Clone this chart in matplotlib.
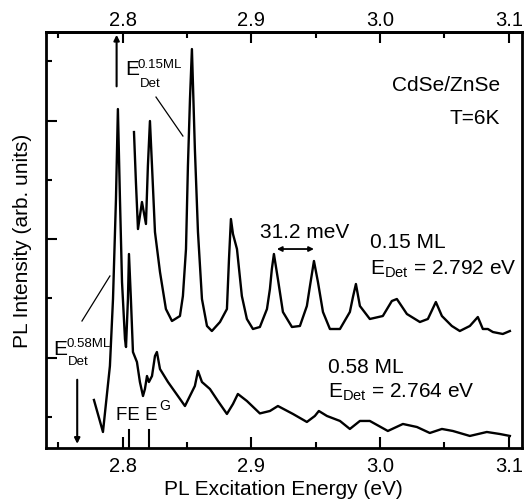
import matplotlib
matplotlib.use("Agg")
import matplotlib.pyplot as plt

plt.rcParams['font.family'] = ['Liberation Sans', 'DejaVu Sans']
plt.rcParams['mathtext.fontset'] = 'custom'
plt.rcParams['mathtext.rm'] = 'Liberation Sans'
plt.rcParams['mathtext.it'] = 'Liberation Sans'

# 0.58 ML spectrum (lower trace), excitation energy in eV vs intensity (arb. units)
e_058 = [2.7777, 2.7847, 2.7901, 2.7925, 2.7948, 2.7963, 2.7979, 2.7995, 2.8018,
         2.8026, 2.8041, 2.8049, 2.8064, 2.8080, 2.8111, 2.8134, 2.8158, 2.8173,
         2.8189, 2.8204, 2.8228, 2.8251, 2.8266, 2.8290, 2.8352, 2.8429, 2.8484,
         2.8561, 2.8585, 2.8616, 2.8678, 2.8740, 2.8810, 2.8857, 2.8895, 2.8965,
         2.9066, 2.9144, 2.9206, 2.9323, 2.9431, 2.9493, 2.9524, 2.9587, 2.9688,
         2.9765, 2.9843, 2.9920, 3.0060, 3.0177, 3.0286, 3.0386, 3.0480, 3.0565,
         3.0697, 3.0829, 3.0930, 3.1008]
i_058 = [0.287, -0.253, 0.860, 1.990, 3.676, 5.194, 3.676, 2.277, 1.315,
         1.180, 1.990, 2.749, 1.990, 1.096, 0.927, 0.590, 0.354, 0.472,
         0.691, 0.590, 0.691, 1.029, 1.096, 0.809, 0.590, 0.354, 0.185,
         0.523, 0.776, 0.590, 0.472, 0.270, 0.051, 0.219, 0.388, 0.270,
         0.060, 0.101, 0.185, 0.051, -0.084, 0.017, 0.101, 0.017, -0.067,
         -0.202, -0.067, -0.067, -0.236, -0.118, -0.169, -0.270, -0.202, -0.236,
         -0.320, -0.253, -0.287, -0.320]

# 0.15 ML spectrum (upper trace)
e_015 = [2.8088, 2.8103, 2.8119, 2.8150, 2.8181, 2.8196, 2.8212, 2.8228, 2.8251,
         2.8290, 2.8336, 2.8383, 2.8445, 2.8468, 2.8492, 2.8507, 2.8523, 2.8538,
         2.8561, 2.8585, 2.8616, 2.8655, 2.8693, 2.8756, 2.8810, 2.8826, 2.8841,
         2.8857, 2.8888, 2.8926, 2.8965, 2.9012, 2.9066, 2.9121, 2.9144, 2.9159,
         2.9175, 2.9206, 2.9245, 2.9315, 2.9377, 2.9431, 2.9455, 2.9486, 2.9517,
         2.9556, 2.9610, 2.9688, 2.9765, 2.9789, 2.9812, 2.9843, 2.9920, 3.0021,
         3.0091, 3.0130, 3.0208, 3.0309, 3.0371, 3.0433, 3.0480, 3.0557, 3.0619,
         3.0697, 3.0759, 3.0798, 3.0837, 3.0876, 3.0953, 3.1008]
i_015 = [4.806, 3.963, 3.170, 3.626, 3.255, 4.233, 4.992, 4.233, 3.120,
         2.445, 1.821, 1.619, 1.703, 2.040, 2.833, 4.233, 5.363, 6.206,
         4.519, 3.120, 1.990, 1.535, 1.450, 1.602, 1.821, 2.664, 3.339,
         3.086, 2.833, 2.040, 1.653, 1.484, 1.518, 1.821, 2.159, 2.496,
         2.749, 2.327, 1.771, 1.518, 1.535, 1.872, 2.209, 2.631, 2.277,
         1.771, 1.484, 1.484, 1.771, 2.024, 2.243, 1.872, 1.653, 1.703,
         1.956, 1.990, 1.737, 1.602, 1.653, 1.939, 1.703, 1.535, 1.450,
         1.535, 1.686, 1.484, 1.484, 1.433, 1.400, 1.450]

x_ticks = [2.8, 2.9, 3.0, 3.1]
x_labels = ['2.8', '2.9', '3.0', '3.1']
x_minor = [2.75, 2.85, 2.95, 3.05]
y_major = [1, 3, 5]
y_minor = [0, 2, 4, 6]

fs = 15
fs_small = 9.5

fig = plt.figure(figsize=(5.25, 5.02), dpi=100)
ax = fig.add_axes([0.087, 0.1056, 0.907, 0.8286])

ax.plot(e_058, i_058, color='black', lw=1.7)
ax.plot(e_015, i_015, color='black', lw=1.7)

ax.set_xlim(2.7402, 3.1101)
ax.set_ylim(-0.523, 6.493)
ax.set_xticks(x_ticks)
ax.set_xticklabels(x_labels)
ax.set_xticks(x_minor, minor=True)
ax.set_yticks(y_major)
ax.set_yticks(y_minor, minor=True)

ax.tick_params(axis='x', which='both', direction='in', top=False,
               labelsize=14.5, pad=6)
ax.tick_params(axis='y', which='both', direction='in', left=True, right=False,
               labelleft=False)
ax.tick_params(which='major', length=8, width=1.5)
ax.tick_params(which='minor', length=4, width=1.5)
for s in ax.spines.values():
    s.set_linewidth(2)

# top axis with same scale
top = ax.secondary_xaxis('top')
top.set_xticks(x_ticks)
top.set_xticklabels(x_labels)
top.set_xticks(x_minor, minor=True)
top.tick_params(which='both', direction='in', labelsize=14.5, pad=2)
top.tick_params(which='major', length=8, width=1.5)
top.tick_params(which='minor', length=4, width=1.5)
top.spines['top'].set_linewidth(2)

ax.set_xlabel('PL Excitation Energy (eV)', fontsize=fs, labelpad=3)
ax.set_ylabel('PL Intensity (arb. units)', fontsize=fs, labelpad=10)

# detection energy arrows
ax.annotate('', xy=(2.7953, 6.493), xytext=(2.7953, 5.53),
            arrowprops=dict(arrowstyle='-|>', color='black', lw=1.5, mutation_scale=8))
ax.annotate('', xy=(2.7647, -0.50), xytext=(2.7647, 0.675),
            arrowprops=dict(arrowstyle='-|>', color='black', lw=1.5, mutation_scale=8))

# FE and E^G markers
ax.plot([2.8053, 2.8053], [-0.22, -0.523], color='black', lw=1.5)
ax.plot([2.8208, 2.8208], [-0.22, -0.523], color='black', lw=1.5)
ax.text(2.7948, -0.034, 'FE E', fontsize=13.5, va='baseline')
ax.text(2.8285, 0.13, 'G', fontsize=10, va='baseline')

# E_Det labels with pointers
ax.text(2.8018, 5.784, 'E', fontsize=fs, va='baseline')
ax.text(2.8119, 5.902, '0.15ML', fontsize=fs_small, va='baseline')
ax.text(2.8134, 5.582, 'Det', fontsize=fs_small, va='baseline')
ax.plot([2.8259, 2.8468], [5.396, 4.739], color='black', lw=0.9)

ax.text(2.7459, 1.062, 'E', fontsize=fs, va='baseline')
ax.text(2.7560, 1.197, '0.58ML', fontsize=fs_small, va='baseline')
ax.text(2.7575, 0.894, 'Det', fontsize=fs_small, va='baseline')
ax.plot([2.7684, 2.7901], [1.619, 2.378], color='black', lw=0.9)

# period arrow
ax.annotate('', xy=(2.9198, 2.833), xytext=(2.9486, 2.833),
            arrowprops=dict(arrowstyle='<|-|>', color='black', lw=1.3, mutation_scale=7,
                            shrinkA=0, shrinkB=0))
ax.text(2.9066, 3.035, '31.2 meV', fontsize=fs, va='baseline')

ax.text(2.9923, 2.867, '0.15 ML', fontsize=fs, va='baseline')
ax.text(2.9923, 2.411, r'E$_{\mathregular{Det}}$ = 2.792 eV', fontsize=fs, va='baseline')
ax.text(2.9594, 0.759, '0.58 ML', fontsize=fs, va='baseline')
ax.text(2.9594, 0.337, r'E$_{\mathregular{Det}}$ = 2.764 eV', fontsize=fs, va='baseline')

ax.text(3.0930, 5.514, 'CdSe/ZnSe', fontsize=fs, ha='right', va='baseline')
ax.text(3.0930, 4.958, 'T=6K', fontsize=fs, ha='right', va='baseline')

fig.savefig('out.png', dpi=100)
